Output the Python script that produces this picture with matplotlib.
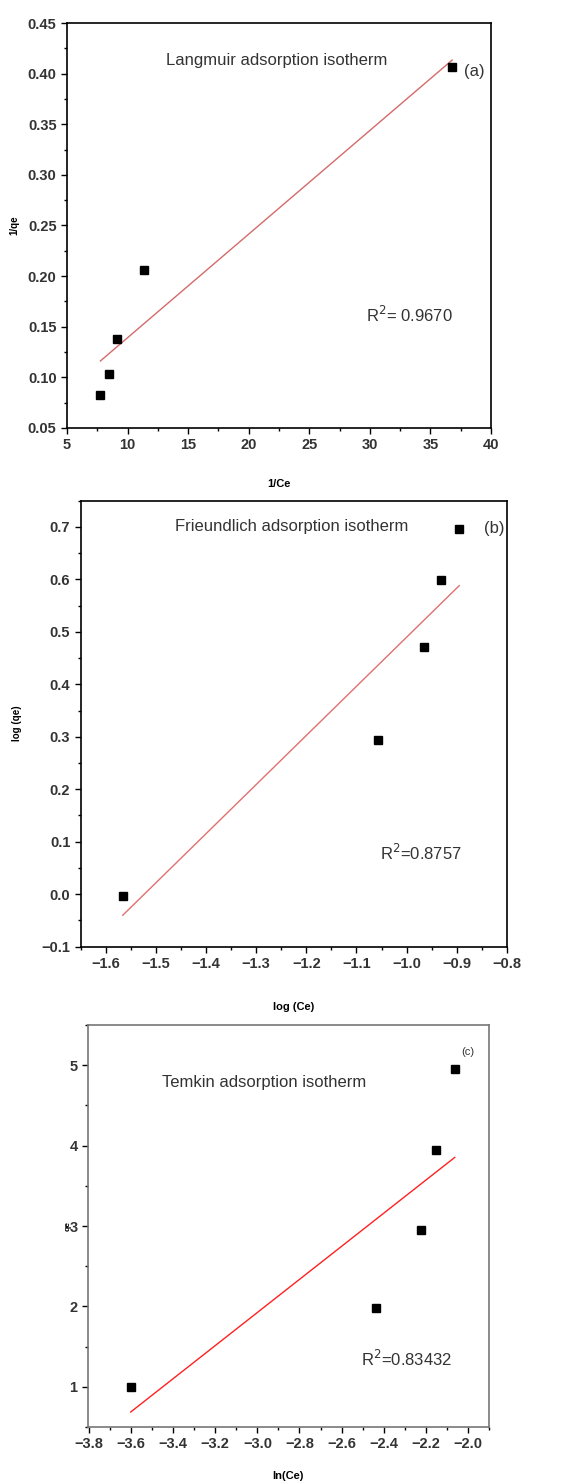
import numpy as np
import matplotlib.pyplot as plt
from matplotlib.ticker import MultipleLocator, FuncFormatter

plt.rcParams['font.family'] = ['Liberation Sans Narrow', 'Liberation Sans', 'DejaVu Sans']

# Langmuir: 1/Ce vs 1/qe
lang_x = [7.76, 8.47, 9.13, 11.34, 36.8]
lang_y = [0.0826, 0.103, 0.1376, 0.206, 0.407]

# Freundlich: log(Ce) vs log(qe)
freu_x = [-1.566, -1.0575, -0.966, -0.932, -0.895]
freu_y = [-0.003, 0.294, 0.472, 0.599, 0.697]

# Temkin: ln(Ce) vs qe
temk_x = [-3.602, -2.435, -2.222, -2.149, -2.062]
temk_y = [1.0, 1.975, 2.95, 3.95, 4.95]

fig = plt.figure(figsize=(5.63, 14.84), dpi=100)


def fmt(digits):
    return FuncFormatter(lambda v, p: f'{v:.{digits}f}'.replace('-', '\u2212'))


def style_axes(ax, xmaj, xmin, ymaj, ymin, spine_col='black'):
    ax.xaxis.set_major_locator(MultipleLocator(xmaj))
    ax.xaxis.set_minor_locator(MultipleLocator(xmin))
    ax.yaxis.set_major_locator(MultipleLocator(ymaj))
    ax.yaxis.set_minor_locator(MultipleLocator(ymin))
    ax.tick_params(which='major', direction='out', length=4, width=1, labelsize=10.5)
    ax.tick_params(which='minor', direction='out', length=2.5, width=1)
    for lab in ax.get_xticklabels() + ax.get_yticklabels():
        lab.set_fontweight('bold')
        lab.set_color('#333333')
    for s in ax.spines.values():
        s.set_color(spine_col)
        s.set_linewidth(1.2)


def fit_line(ax, x, y, color):
    k, b = np.polyfit(x, y, 1)
    xs = np.array([min(x), max(x)])
    ax.plot(xs, k * xs + b, color=color, lw=1.0, zorder=2)
    ax.plot(x, y, 's', color='black', ms=6, zorder=3)


# (a) Langmuir
ax1 = fig.add_axes([0.119, 0.7116, 0.753, 0.2729])
fit_line(ax1, lang_x, lang_y, '#d46a6a')
ax1.set_xlim(5, 40)
ax1.set_ylim(0.05, 0.45)
ax1.xaxis.set_major_formatter(fmt(0))
ax1.yaxis.set_major_formatter(fmt(2))
style_axes(ax1, 5, 2.5, 0.05, 0.025)
ax1.text(22.3, 0.413, 'Langmuir adsorption isotherm', ha='center', va='center',
         fontsize=12, color='#333333')
ax1.text(38.6, 0.402, '(a)', ha='center', va='center', fontsize=12, color='#333333')
ax1.text(33.3, 0.162, r'R$^2$= 0.9670', ha='center', va='center', fontsize=12,
         color='#333333')
ax1.set_xlabel('1/Ce', fontsize=8, fontweight='bold', labelpad=19)
ax1.set_ylabel('1/qe', fontsize=7, fontweight='bold', labelpad=6)

# (b) Freundlich
ax2 = fig.add_axes([0.1433, 0.3621, 0.757, 0.3005])
fit_line(ax2, freu_x, freu_y, '#e07070')
ax2.set_xlim(-1.65, -0.8)
ax2.set_ylim(-0.1, 0.75)
ax2.xaxis.set_major_formatter(fmt(1))
ax2.yaxis.set_major_formatter(fmt(1))
style_axes(ax2, 0.1, 0.05, 0.1, 0.05)
ax2.text(-1.23, 0.70, 'Frieundlich adsorption isotherm', ha='center', va='center',
         fontsize=12, color='#333333')
ax2.text(-0.825, 0.697, '(b)', ha='center', va='center', fontsize=12, color='#333333')
ax2.text(-0.972, 0.078, r'R$^2$=0.8757', ha='center', va='center', fontsize=12,
         color='#333333')
ax2.set_xlabel('log (Ce)', fontsize=8, fontweight='bold', labelpad=22)
ax2.set_ylabel('log (qe)', fontsize=7, fontweight='bold', labelpad=14)

# (c) Temkin
ax3 = fig.add_axes([0.1563, 0.0384, 0.712, 0.2709])
fit_line(ax3, temk_x, temk_y, '#ff2020')
ax3.set_xlim(-3.805, -1.90)
ax3.set_ylim(0.5, 5.5)
ax3.xaxis.set_major_formatter(fmt(1))
ax3.yaxis.set_major_formatter(fmt(0))
style_axes(ax3, 0.2, 0.1, 1, 0.5, spine_col='#777777')
ax3.text(-2.97, 4.79, 'Temkin adsorption isotherm', ha='center', va='center',
         fontsize=12, color='#333333')
ax3.text(-2.0, 5.17, '(c)', ha='center', va='center', fontsize=8, color='#333333')
ax3.text(-2.29, 1.35, r'R$^2$=0.83432', ha='center', va='center', fontsize=12,
         color='#333333')
ax3.set_xlabel('ln(Ce)', fontsize=8, fontweight='bold', labelpad=14)
ax3.set_ylabel('qe', fontsize=6, fontweight='bold', labelpad=-2)

fig.savefig('out.png', dpi=100)
